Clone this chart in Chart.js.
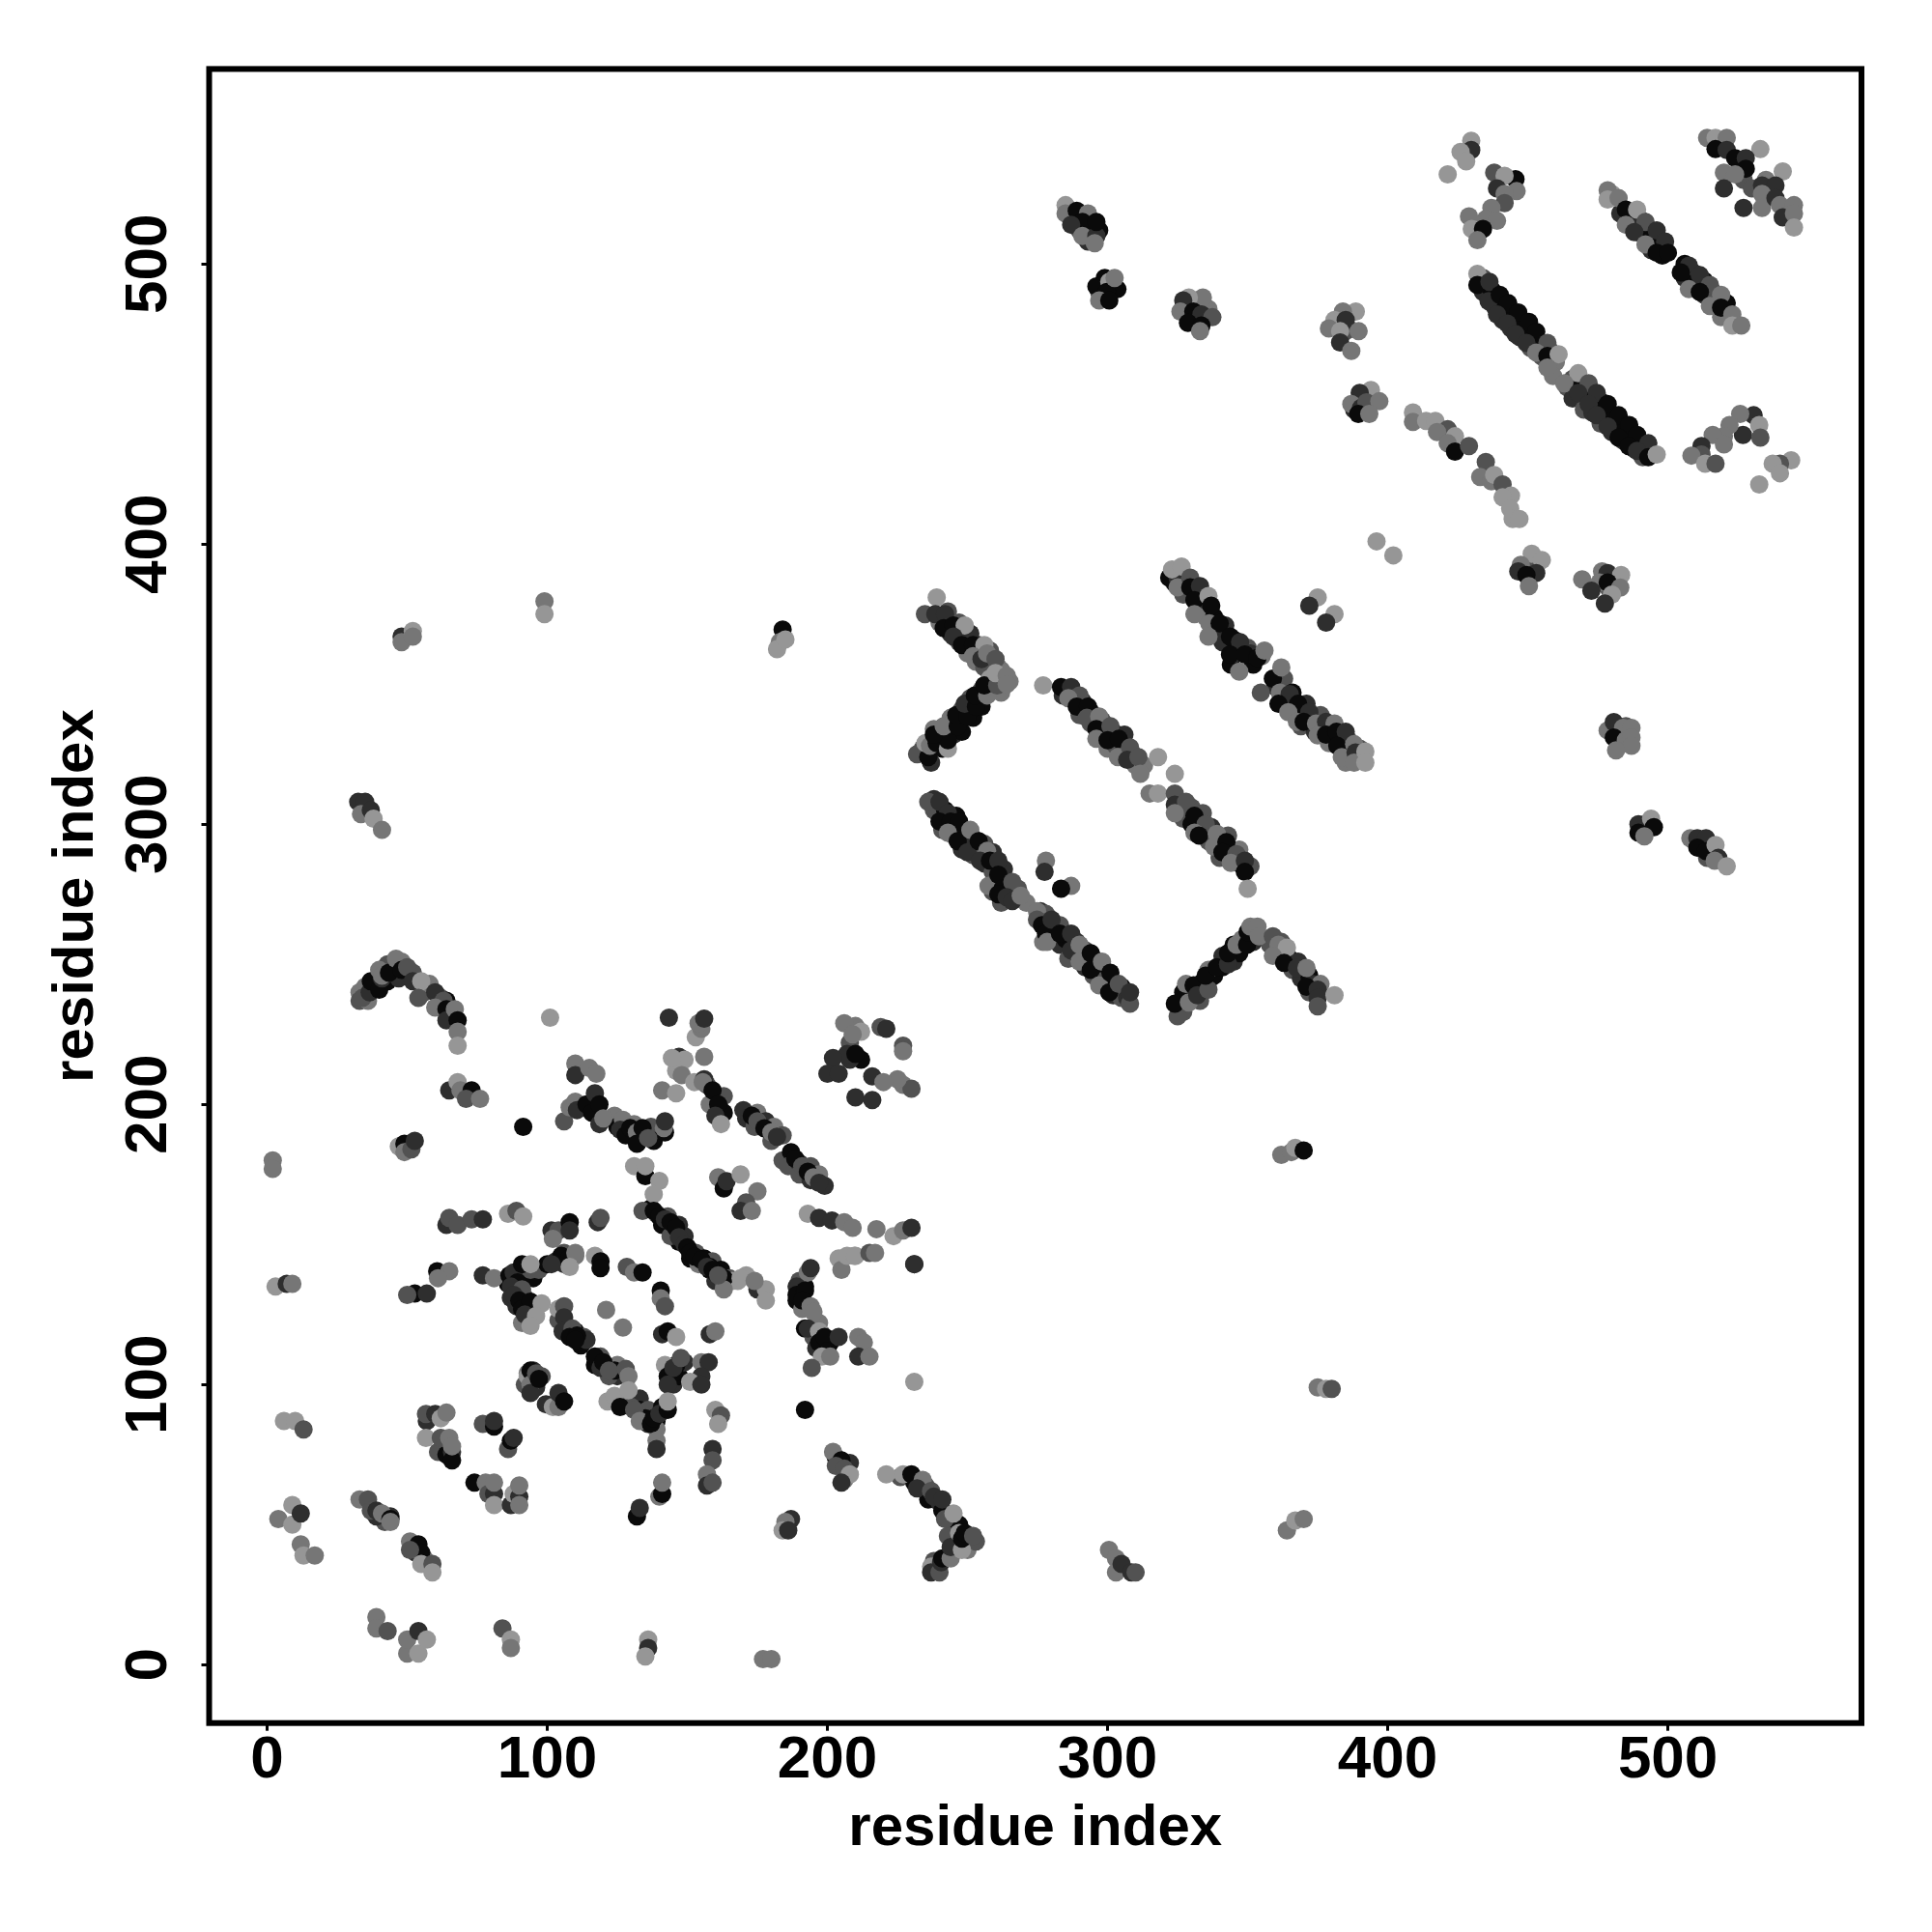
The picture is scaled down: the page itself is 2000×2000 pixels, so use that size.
<!DOCTYPE html>
<html>
<head>
<meta charset="utf-8">
<title>residue contact map</title>
<script src="https://cdn.jsdelivr.net/npm/chart.js@4/dist/chart.umd.min.js"></script>
<style>
	body { margin: 0; background: #fff; }
	canvas { display: block; }
</style>
</head>
<body>
<canvas id="contactMap" width="2000" height="2000"></canvas>
<script>
// each contact: [residue i, residue j, level] (level 1 = weak/light ... 5 = strong/black)
var cornerContacts = [
	[2,180,2],[2,177,2],[3,135,1],[7,136,4],[9,136,2],[6,87,1],[10,87,1],[13,84,3],[4,52,2],[9,57,1],[9,50,1],[12,54,4],[12,43,2],[13,39,1],[17,39,2],
	[33,59,2],[36,59,3],[37,55,3],[39,55,4],[41,54,2],[44,52,5],[44,51,2],[51,44,2],[54,43,5],[55,40,5],[51,41,3],[55,36,1],[59,36,3],[59,33,1],
	[39,17,2],[39,13,2],[43,12,3],[50,4,2],[50,9,2],[54,4,1],[54,12,4],[57,9,1],[84,13,3],[87,9,1],[87,6,2],[136,9,1],[136,6,4],[135,3,1],[177,2,2],[180,2,2],
	[57,87,4],[56.7,89.5,3],[60,89.5,4],[62,88,1],[64,90,2],[56.7,81,1],[62,81,3],[65,81,2],[66,73,5],[66,78,2],[77,86,3],[81,85,5],[81,87,4],[86,77,3],[87,80,5],[88,81,4],
	[74,65,5],[78,65,2],[79,61,3],[81,61,4],[81,57,1],[81,65,2],[87,57,4],[88,61,1],[90,60,4],[90,57,2],[90,64,2],
	[300.5,41,2],[303,38,2],[303,33,2],[305,36,4],[308.5,33,4],[310,33,3],[364,48,2],[367,51.5,1],[370,52,2],[375,99,2],[378,98.5,1],[380,98.5,3],[362,182,2],[365.6,183,2],[367,184.5,1],[370,183.6,5]
];
var lowerContacts = [
	[33,240,2],[33,237,3],[36,237,2],[34,238,3],[36.6,240,4],[37,244,5],[40,241,5],[40,248,2],[41,245,4],[41,246,2],[43.5,247,5],[46,252,2],[48,248,5],[50,249,3],[52,244,4],[55,244,1],[54,238,3],[60,240,4],[63,237,3],[60,234.6,2],[64,234,5],[64,230,4],[67,234,2],[68,230,5],[68,226,2],[68,221,1],
	[65,205,4],[68,208,1],[69,205,2],[73,205,5],[71,202,3],[76,202,2],[47,185,1],[49,186,5],[49,183,2],[51.5,184,3],[52.7,187,4],[91.4,192,5],[101,231,1],[143.4,231,4],
	[110,214.6,2],[110,210.5,4],[115,213,2],[117.5,211,2],[106,194,3],[108,199,2],[110,201,2],[110.6,198,4],[114,200,5],[117,204,4],[116,197,5],[118.6,200,5],[118.6,193,4],[120,195,2],[127,194.5,2],[126,191,4],[128,189,5],[129.6,191.6,5],[132,190,2],[132,186,5],[134,191.6,5],[136,188,3],[141.6,191.6,2],[142,194,4],
	[147,217,4],[149,216,1],[146,212,1],[148,210.5,2],[141,205,2],[146,204,1],[152.5,208,1],[156,217,2],[156,209,4],[153,224,1],[155,227,2],[154,229,2],[156,230.6,4],[144.5,216.6,1],
	[131,178,1],[135,174.4,5],[135,178,1],[140,172.7,1],[138,168,1],[134,162,3],[138,162,5],[140,160,5],[142,159,4],[144,158,5],[146,156,5],[147,152.6,4],
	[86,161,1],[89,162,3],[91.4,160,1],[64,157,4],[65,159.5,3],[68,157,3],[73,159,3],[77,159,4],[101.5,155,4],[104,155,3],[102,152,2],[108,158,5],[108,155,4],[118,158,4],[119,159.5,3],
	[105,146,5],[107.8,145,5],[110,147,2],[108,142,1],[101.5,143,4],[117,146,1],[119,144,5],[119,141.6,5],[128.4,142,3],[131,140,2],[134,140,5],[140.5,133.6,5],[140.5,130.8,2],[142,128,3],
	[60.7,140.5,5],[65,140.5,2],[61,138,2],[52.7,132.5,5],[57,132.5,4],[50,132,3],[77,139,4],[81,138,2],
	[86.5,139,5],[88,140,4],[91,143,5],[94,143,1],[89.4,136.5,5],[87,135,4],[91,134,3],[88,132,4],[90,130,5],[91,127,5],[94,129.6,5],[98,129,1],[92,125,4],[96,124.5,1],[94,121,1],
	[104,127,1],[106,128,3],[106,124,4],[105.5,119,4],[109,120,3],[108,117,5],[110.6,117.5,5],[110,116,5],[121,126.7,2],[127,120.4,2],[117,110,5],[119,106,4],[120,108,5],[124,105,5],[122,105,3],[128,105.6,3],[129,103,2],
	[141,118,4],[143,119,5],[146,117,1],[158,118,4],[160,119,2],[155,108,2],[157.6,108,4],[155,103,4],[151,101,1],[155,100,4],[142,107,1],[143,103,5],[145,104,5],[145,106,4],[147.7,109.5,3],[143,100,4],
	[93,103,1],[94,105,5],[94,100,2],[94,97,4],[96,104,3],[97,102,5],[99.5,93,4],[102,92,1],[104,92,2],[104,97,4],[106,94,5],
	[121.5,94,1],[124,96,1],[129,98,1],[126,92,5],[131,91,3],[133,87,2],[137,86,5],[138,88,5],[140,89.6,4],[143,91,5],[143,94,1],[139,80,2],[139,77,4],[160,91,1],[162,89,3],[161,86,1],[159,77,4],[159,73,3],[157,68,2],[157,64,4],[159,65,3],
	[140,60,2],[141,61,5],[141,65,2],[132,53,5],[133,56,4],[187,52,4],[185,51,2],[184,48,1],[186,48,4],[192,91,5],[231,101,1],[231,143,4],
	[202,76,2],[205,73,5],[203,71,3],[206,70,3],[208,68,1],[205,65,4],[221,68,1],[227,68,1],[230,68,5],[234,66,2],[232,63,4],[237,62,3],[238,60,4],[241,59,4],[242,52,3],[245,54,1],[237,35,1],[237,33,4],[240,33,3],[240.6,36.6,4],[241,38,5],[244,38,2],[244,42,4],[247,47,1],[248,41,1],[248,45,5],[249,47,5],[252,46,3],
	[193,140,2],[194,141.6,4],[189,135,4],[189,132,5],[192,133.6,5],[191,130,5],[194,128,2],[195,126,2],[193,120,4],[197,119,1],[197,115,5],[199,117,5],[204,117,4],[200,112,5],[198,110,1],[201,110,2],[194.4,106,3],[211,117,2],[213,115,2],[211,110,4],[215,110,2],
	[204,145,1],[205,141,2],[207,146,1],[209.6,146,1],[210,146,1],[215,147,3],[175,134,4],[178,134,1],[178,130,1],[166,137,1],[168,137,1],[171,139,1],[163,138,5],[163,134,2],[160,140,5],[158,142,5],
	[149,150,4],[150,149,5],[151,147,5],[152.6,145.7,5],[155,144.5,5],[157,142,4],[159,141,5],[161,139,3],
	[206,229,2],[209,225,2],[207,218,4],[210,218,5],[219,227.6,3],[221,227,4],[227,221,3],[227,219,2],[227,207,2],[230,205.6,3],[225,209,2],[216,210,4],[220,208,2],[210,202.5,4],[216,201.6,4],[202,216.6,4],[200,211,4],[204,211,4],
	[155.5,208,2],[159,205,5],[161,200,5],[160,196,4],[162,193,1],[170,198,4],[173,196,5],[175,194,3],[177.5,191.5,5],[180,190,2],[182,188.5,4],[188.5,180.6,5],[191,178,3],[193,176,5],[195,174,2],[197,172,4],
	[161,174,2],[163,170,5],[164,172.6,4],[169,175,1],[175,169,2],[171,165,3],[169,162,4],[173,162,2],[193,161,1],[197,159.5,4],[201.6,158.6,4],[206,158,2],[209,156,2],[217.5,155.5,2],[223.6,153,1],[227,155,2],[230,156,4],[217,147,2],[231,143,4],[169,138,1],[174,137,2],
	[32.5,308,4],[35,308,4],[33.5,303.6,2],[37,305,4],[38,302,1],[41,298,2],[48,367,4],[48,365,2],[52,369,1],[52,367,2],[99,379.6,2],[99,375,1],[184,369.5,5],[183,365,2],[182,362.5,1],[185,366,1]
];
var middleContacts = [
	[239,381,1],[234.8,375,3],[238.5,375,4],[242,375,4],[241.5,370,5],[245,371,5],[249,371,1],[245,367,4],[248,364,5],[252,364,5],[256,364,1],[252,360,2],[255,359,4],[257,361,2],[260,359,3],
	[232,325,3],[236,324,5],[235,329,1],[236.6,328,2],[239,329,5],[243,327,1],[243,330,5],[238,332,5],[241.5,335,2],[246.5,335,5],[246,339,5],[250,338.5,5],[249,343,4],[253,342,5],[252.6,346,5],[257,346,2],[256,349.6,5],[260.6,349.6,3],[260,354,1],[264,353,2],[264,350,2],
	[236,308,3],[240,308,4],[243,304,4],[240,301,5],[244,301,5],[247,301,5],[243,297,2],[246.5,294,5],[251,298,2],[250,290,4],[254,294,5],[257,290.5,2],[254.5,287,4],[258,287,5],[261,287,4],[257.5,278,2],[261,282,5],[262.5,277,5],[266,279.4,3],[261,275,5],[264,274,4],[266,272.6,4],[269,274.5,2],
	[278,287,2],[277.5,283,4],[287,278,2],[283.4,277,5],
	[274.8,269,2],[274.8,266,3],[276.6,264,5],[278,261,5],[278.4,258,2],[280,266,4],[283,261,5],[287,261,4],[287,255,4],[290,257,2],[290,251,2],[294,254,5],[294,248,5],[298,251,2],[297,242.5,2],[301,247,5],[300.6,240,5],[304,243,3],[308,236,3],[308,240,4],
	[325,231.5,3],[324,236,5],[329,236.4,2],[328,243,2],[330.7,242.5,5],[332,239,4],[336,241,3],[335,246,5],[339,249,5],[343,250,4],[343,254,5],[346,257,2],[349.8,257,5],[350,261.6,5],[351,263.5,2],[353.5,263.5,2],[354,260,2],
	[359,260,3],[361,257,2],[364,256,1],[359,253,2],[363,250.5,5],[367.6,248.7,4],[371,248.7,2],[371,242,5],[375,241,4],[375,238,4],[375,235,3],[381,239,1],
	[277,349.6,1],[283.4,349,5],[287,349,4],[290,346,3],[286,345,2],[289,342,5],[293,342,5],[292.6,338,3],[297,338.5,2],[296,334,5],[301,335,3],[296,330.5,2],[300,330,5],[304,330.5,5],[303.7,324,2],[308,327.4,3],[307,323,4],[311,324,3],[311.7,318,2],[318,324,1],[324,318,1],[315,311,2],[318,311,1],
	[324,311,3],[324,307,4],[328,308,3],[324,304,2],[331,303,5],[335,300,3],[331,297,2],[332.6,296,5],[339,296.6,2],[338,292,2],[342.4,293.6,5],[341,290,5],[346,289.3,3],[344,286.2,2],[349,287,4],[349,283,5],[350,277,1],
	[322,388,5],[325,388,4],[323,391,1],[326.4,392,1],[325,384.6,2],[329.5,388,3],[329.5,384.6,5],[333,385,4],[331,380,5],[336,381.5,1],[337,378,5],[331,375,2],[336.3,371.7,2],[340,371.7,5],[336,367,2],[343.7,367,5],[347.3,365,4],[343.7,360.6,5],[347,354.5,2],[349,360.6,5],[353.5,359.4,5],[356,362,2],[354.7,347,3],
	[359,352,5],[362,356,2],[361.5,347,2],[365,346.5,4],[361,343,5],[368,343,5],[364.5,340,2],[372,340,4],[367.6,336.6,2],[370,336.6,5],[374.4,336,2],[378,336.6,4],[381,336,2],[375,331.7,2],[378,332,5],[381.7,333,5],[385,333,4],[382,328,5],[388,328.6,2],[383.6,324,2],[388.5,325.6,4],[388,322,2],[392,326,1],[392,322,1],
	[375,381,1],[372,378,4],[381,375,1],[378,372,4],[402,396,1],[396,401,1]
];
var upperContacts = [
	[285,521,1],[285,518,2],[289,519,5],[293,518,2],[291,515,5],[287,514,4],[291,510,2],[296,510,4],[295.4,507.4,2],[296,515,5],
	[299,495,5],[296,492,5],[300.6,493.6,1],[303.5,491,5],[299.7,490,5],[297,487,2],[300.6,487,5],[302.5,495,2],
	[334,488,2],[329,488,1],[327,487,4],[326,483,2],[330.6,483,5],[333.5,482,4],[337.4,481,3],[328.7,479,5],[333.5,478,5],[333,476,2],
	[388.6,483,1],[384,483,2],[381,480,1],[385,480,4],[379,477,2],[383,476,1],[389.6,476,2],[383,472,4],[387,469,2],
	[394,455,1],[390,454,4],[387,450,2],[390.5,448.6,4],[392.4,450.6,3],[397,451,2],[389.5,446.5,5],[393.4,446.5,2],
	[409,447,1],[409,443.6,2],[413.7,444,1],[417,444,1],[421.4,441,3],[417.6,440,2],[424,438.5,1],[421.4,436,2],[424,433,5],[429,435,3],[435,429.3,3],[433,424,2],[437,422.4,2],[438,424.7,1],[441,421.3,3],[444,417.3,1],[441,416.7,1],[443.7,412.7,1],[444.6,409,1],[447,409,1],
	[451.4,396.6,1],[447.5,392.6,2],[455,394.3,1],[446.6,390.3,4],[453,389.7,4],[449.5,389,5],[450.4,385,2],
	[469.4,387.4,2],[476.5,390.3,2],[478.5,389.7,4],[483.3,389,1],[475.6,386.3,2],[478.5,386.3,5],[483,384.5,2],[472.7,383.4,4],[480,382,1],[477.5,378.8,4],
	[429.8,544,1],[429.8,540.7,4],[426,540,1],[428,536.6,1],[421.4,532,1],
	[438,532.6,3],[445.6,530.3,5],[441.7,531.5,1],[439,527,4],[446,526,2],[441.7,525,2],[441.7,521.7,3],[437,520,2],[435,516,2],[439,515.4,2],[429,517,2],[430,512.5,1],[434,512.5,5],[432,508.5,2],
	[432,496.5,1],[432,492.5,5],[436.3,493.6,4],[436,486.7,4],[440,489,5],[443,486,5],[439,482,4],[446.6,482.7,5],[442.7,478.7,4],[450.4,479.3,5],[445.6,475,4],[453,475.8,5],[449.5,471.8,4],[457,471.8,3],[453,468.4,2],[457,467.2,5],[461,467.8,1],[457,463,2],
	[468,461,1],[463,457.4,2],[471.7,457.4,3],[468,454,4],[474.6,454,4],[471.7,450,4],[478.5,450,5],[474.6,446,4],[482.4,446,5],[478.5,442,4],[486.2,442.5,5],[482.4,438,5],[489,439,5],[486,435,5],[493,436,4],[489,433.3,4],[493,431,5],[496,432,1],
	[478.5,526.3,2],[478.5,523,1],[482.4,523.5,2],[485,519.4,5],[489,519.4,1],[485,514,2],[492,515,3],[488,511.4,4],[496,512,4],[492,507,2],[499,508,4],[496,504,5],[500,504,5],
	[507.5,499.4,4],[504.6,497,5],[511.4,496,4],[507.5,491,2],[515,492.5,3],[511.4,490,5],[519,489,2],[515,485,2],[519,484.4,5],[523,482,2],[523,478,1],[526.2,478,2],
	[514,545,2],[517,545,1],[521,545,2],[517,541,5],[521,540.7,4],[533,541,1],[524,537.8,5],[527.8,537.8,4],[527.8,534,5],[520,532.6,2],[524,532,2],[541,533,1],[520,527,4],[527,520,4],[533.6,528,4],[538.4,528,4],[533.6,525,2],[533.6,520,2],[538.4,523.5,4],[540,521,2],[541,516.6,4],[545,521,2],[545,518,2],[545,513,1],
	[530.6,446,4],[525.8,446.5,2],[532.6,442.5,1],[526.8,439,4],[533,438,3],[522,442.5,2],[520,438.5,2],[516,439,2],[520,435.6,2],[512,435,4],[512,432,3],[508.4,431.6,2],[513.3,428.7,1],[517,428.7,3],
	[544,429.9,1],[540,428.7,3],[537.4,428.7,1],[540,425.3,1],[532.6,421.3,1],
	[478.5,333.5,2],[480.7,336.5,4],[484,334.4,2],[487,334.4,2],[480.7,331,5],[485,330,2],[487,331,2],[487,328,2],[481.5,326.4,2],
	[489.5,300,4],[489.5,297,5],[494,302,1],[495,299,5],[491.6,295.7,2],
	[508,295,2],[510.5,295,4],[513.6,295,4],[510.5,291.7,5],[513.6,290.4,5],[517,292.6,1],[518,288,4],[516.7,287,2],[521,285,1]
];
// contacts that sit under the others and thicken the strands
var strandContacts = [
	[240,372,2],[243,376,3],[244,368,4],[247,372,3],[247,365,3],[251,368,4],[250,361,2],[254,364,4],[253,358,2],[258,362,3],[256,356,3],[261,356,2],
	[234,327,3],[237,322,4],[238,334,2],[241,327,5],[241,331,4],[245,332,4],[244,338,2],[248,333,5],[248,341,3],[252,338,5],[251,345,3],[255,342,5],[255,348,3],[258,349,5],[258,352,1],[262,347,2],[262,355,2],[265,351,2],
	[238,305,3],[238,309,4],[241,298,3],[242,305,5],[245,296,2],[246,303,5],[248,298,5],[248,291,4],[252,295,4],[252,289,3],[256,293,3],[256,286,4],[259,290,4],[259,283,3],[263,284,4],[259,276,3],[263,278,5],[266,276,4],[262,272,3],[268,277,3],[271,272,2],
	[276,269,4],[278,268,3],[280,262,5],[277,258,2],[283,264,3],[283,257,4],[285,259,5],[286,252,3],[289,258,4],[289,254,5],[292,255,3],[292,249,4],[295,252,5],[295,246,3],[298,248,5],[298,244,3],[302,243,5],[302,239,4],[305,242,5],[305,238,3],[307,238,4],
	[327,233,3],[327,240,5],[330,238,5],[333,243,5],[333,237,3],[336,244,4],[338,246,5],[336,248,2],[341,249,5],[341,253,4],[345,251,4],[345,257,5],[347,254,5],[348,259,2],[352,258,4],[352,261,3],
	[358,257,3],[361,254,5],[362,258,3],[365,252,5],[366,248,3],[368,251,4],[369,245,4],[372,246,5],[373,243,4],[372,240,3],[376,243,2],
	[284,346,4],[288,345,5],[291,344,4],[290,339,3],[294,340,5],[294,336,3],[298,337,3],[298,332,5],[302,333,5],[300,327,2],[305,327,5],[306,332,4],[303,328,3],[309,325,3],[310,321,2],[313,321,2],
	[327,305,4],[327,302,3],[330,306,3],[330,300,5],[334,304,3],[334,297,5],[337,299,4],[336,294,3],[340,293,5],[344,291,5],[343,296,3],[347,286,5],[347,291,2],[340,288,3],[351,285,3],
	[324,386,5],[327,382,3],[328,386,4],[331,384,5],[333,381,5],[332,377,2],[335,378,4],[335,374,2],[338,374,5],[339,369,4],[342,371,4],[341,365,4],[345,366,5],[344,357,5],[346,361,4],[350,363,3],[352,357,5],[351,361,4],[355,360,2],
	[360,349,4],[363,352,3],[363,345,5],[366,342,4],[366,347,5],[369,340,5],[371,343,4],[369,335,3],[373,338,5],[376,339,3],[374,333,4],[377,335,5],[380,333,4],[379,329,2],[384,331,5],[385,327,5],[386,330,3],[387,324,4],[385,322,2],[390,327,3],[390,323,2],
	[434,490,4],[434,495,3],[437,491,5],[438,485,4],[441,486,5],[441,480,4],[444,483,5],[444,477,4],[447,479,5],[447,474,4],[450,476,5],[451,470,3],[454,472,5],[455,467,3],[458,469,3],[460,465,2],[459,460,2],
	[464,456,3],[466,459,3],[466,452,4],[469,456,5],[470,448,3],[472,453,5],[473,447,4],[476,451,5],[476,443,3],[479,447,5],[480,440,4],[484,443,5],[484,437,4],[487,438,5],[488,434,4],[491,436,5],[491,431,3],
	[480,525,1],[483,518,4],[486,516,3],[487,517,5],[490,511,3],[490,516,4],[493,510,5],[494,505,4],[497,508,5],[498,503,5],[506,495,4],[506,500,5],[509,497,4],[509,493,5],[513,489,4],[513,494,5],[516,490,4],[517,487,3],[521,486,5],[519,481,2],[521,481,2],
	[171,195,4],[175,197,2],[174,192,3],[178,194,4],[180,187,3],[181,192,2],[184,189,3],[184,180,3],[187,183,5],[186,178,3],[190,179,4],[190,175,3],[194,178,3],[194,173,4],[197,175,2],[199,171,4],
	[157,207,3],[160,203,5],[163,203,3],[162,198,4],[158,200,2],[163,197,5],
	[137,163,5],[139,161,2],[141,157,5],[143,160,3],[145,155,5],[147,157,4],[149,153,4],[147,151,5],[144,153,3],
	[151,145,5],[153,147,3],[154,143,2],[156,145,5],[158,141,5],[159,144,3],[160,137,4],[162,141,5],[163,136,3],[165,138,3],
	[124,196,2],[125,192,5],[130,190,3],[131,193,2],[134,189,4],[137,192,3],[138,187,5],[142,190,5],
	[104,123,3],[107,121,2],[107,119,5],[110,119,5],[112,114,5],[113,117,3],[114,116,4],
	[117,107,5],[119,110,3],[122,106,5],[125,107,2],[125,103,4],[122,103,3],
	[129,96,2],[133,95,4],[133,91,5],[136,91,3],[136,86,4],[139,87,5],[141,92,5],[139,84,2],[135,88,5],[130,92,3],
	[86,136,5],[87,131,4],[90,135,5],[89,128,4],[92,131,3],[92,128,5],[93,124,4],[91,137,4],[95,138,5],[94,141,3],[97,141,3],[91,122,2],
	[96,99,4],[92,100,3],[95,105,4],[98,103,3],[93,104,2],[100,143,5],[103,144,4],[106,143,4],[108,146,3],[110,146,2],[106,147,3],
	[189,130,5],[191,127,2],[192,135,5],[190,137,3],[192,120,5],[195,117,3],[196,113,4],[201,115,5],[198,118,3],[197,122,2],
	[145,100,4],[147,103,5],[149,108,4],[146,107,5],[143,103,3],
	[226,67,3],[231,65,5],[235,64,3],[236,59,5],[240,58,4],[241,55,5],[245,51,3],[247,50,5],[249,44,4],[246,44,5],[243,46,3],[244,39,5],[238,37,3],[250,41,2],[253,44,3],
	[203,74,5],[207,68,3],[208,72,4],[206,66,2],[52,42,5],[53,40,4],[56,38,2],[44,53,4],[42,51,3],[39,53,4],
	[38,243,3],[43,244,5],[46,249,4],[47,245,4],[52,247,3],[56,240,3],[58,243,2],[62,238,3],[64,237,5],[66,232,5],[35,242,2],[43,250,3],[48,251,2],
	[287,517,4],[290,512,3],[293,513,5],[297,512,5],[293,508,4],[301,490,4],[297,490,3],[330,480,3],[332,485,5],[336,484,2],[386,477,2],[385,476,3],[392,448,5],[388,448,4],[449,392,4],[452,391,3],[479,384,3],[481,388,2],
	[483,332,3],[483,329,2],[485,335,3],[492,298,4],[492,300,3],[512,293,5],[515,293,3],[514,288,3],[527,530,3],[530,527,3],[535,530,2],
	[210,228,2],[212,226,1],[208,222,3],[212,216,5],[208,216,4],[61,76,3],[64,75,5],[66,76,4]
];
var tickValues = [0, 100, 200, 300, 400, 500];
var axisTitle = 'residue index';

var levelGrays = ['#969696', '#767676', '#525252', '#2e2e2e', '#0a0a0a'];
var labelFont = 'Liberation Sans';

function toDataset(contacts) {
	return {
		data: contacts.map(function (c) { return { x: c[0], y: c[1] }; }),
		pointBackgroundColor: contacts.map(function (c) { return levelGrays[c[2] - 1]; }),
		pointRadius: 9.5,
		pointBorderWidth: 0,
		showLine: false
	};
}

function setTicks(scale) {
	scale.ticks = tickValues.map(function (v) { return { value: v }; });
}

// R style box around the plot
var boxPlugin = {
	id: 'box',
	afterDraw: function (chart) {
		var a = chart.chartArea, ctx = chart.ctx;
		ctx.save();
		ctx.strokeStyle = '#000';
		ctx.lineWidth = 6;
		ctx.lineJoin = 'miter';
		ctx.strokeRect(a.left, a.top, a.right - a.left, a.bottom - a.top);
		ctx.restore();
	}
};

var tickFont = { family: labelFont, size: 62, weight: 'bold' };
var titleFont = { family: labelFont, size: 60, weight: 'bold' };

new Chart(document.getElementById('contactMap'), {
	type: 'scatter',
	// first dataset is painted last
	data: { datasets: [upperContacts, middleContacts, lowerContacts, cornerContacts, strandContacts].map(toDataset) },
	plugins: [boxPlugin],
	options: {
		responsive: false,
		animation: false,
		layout: { padding: { top: 71.4, right: 73, left: 0, bottom: 0 } },
		plugins: { legend: { display: false }, tooltip: { enabled: false } },
		scales: {
			x: {
				type: 'linear',
				min: -20.7,
				max: 569.1,
				afterBuildTicks: setTicks,
				afterFit: function (scale) { scale.height = 216.3; },
				grid: { drawOnChartArea: false, drawTicks: true, tickLength: 8, tickWidth: 3, tickColor: '#000' },
				border: { display: false },
				ticks: { autoSkip: false, maxRotation: 0, minRotation: 0, padding: -6, color: '#000', font: tickFont },
				title: { display: true, text: axisTitle, color: '#000', font: titleFont, padding: { top: 0, bottom: 71 } }
			},
			y: {
				type: 'linear',
				min: -20.8,
				max: 569.6,
				afterBuildTicks: setTicks,
				afterFit: function (scale) { scale.width = 216.5; },
				grid: { drawOnChartArea: false, drawTicks: true, tickLength: 8, tickWidth: 3, tickColor: '#000' },
				border: { display: false },
				ticks: { autoSkip: false, minRotation: 90, maxRotation: 90, crossAlign: 'center', padding: 2, color: '#000', font: tickFont },
				title: { display: true, text: axisTitle, color: '#000', font: titleFont, padding: { top: 43, bottom: 0 } }
			}
		}
	}
});
</script>
</body>
</html>
